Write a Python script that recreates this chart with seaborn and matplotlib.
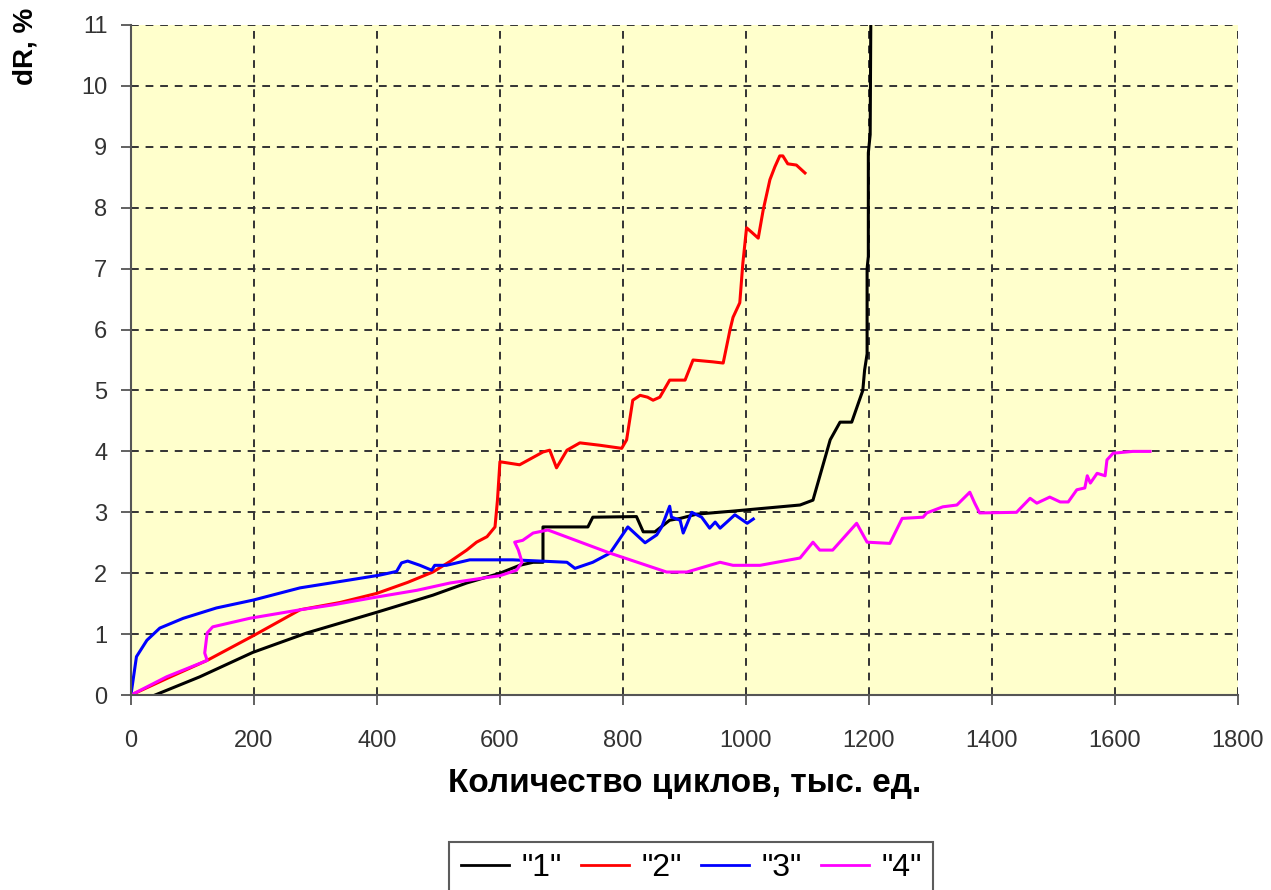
import numpy as np
import pandas as pd
import seaborn as sns
import matplotlib
import matplotlib.pyplot as plt

matplotlib.use("Agg")

# curve "1" (black)
x1 = [39, 112, 198, 286, 400, 491, 546, 600, 632, 654, 670, 670, 681, 743, 751, 822, 833, 852,
      876, 893, 920, 979, 1088, 1109, 1137, 1153, 1172, 1190, 1193, 1197, 1197, 1199, 1199, 1202, 1203]
y1 = [0, 0.3, 0.7, 1.02, 1.36, 1.64, 1.84, 2.0, 2.13, 2.18, 2.18, 2.76, 2.76, 2.76, 2.92, 2.93, 2.68, 2.68,
      2.87, 2.9, 2.97, 3.02, 3.12, 3.2, 4.19, 4.48, 4.48, 5.0, 5.34, 5.6, 7.0, 7.2, 8.9, 9.2, 11.0]

# curve "2" (red)
x2 = [0, 60, 124, 200, 275, 340, 400, 450, 491, 520, 546, 562, 579, 592, 596, 600, 632, 670, 681, 692,
      709, 730, 763, 798, 806, 816, 828, 840, 849, 860, 876, 901, 914, 946, 963, 974, 979, 990, 995,
      1001, 1009, 1020, 1028, 1039, 1047, 1055, 1060, 1068, 1082, 1096]
y2 = [0, 0.28, 0.57, 0.98, 1.4, 1.52, 1.67, 1.85, 2.02, 2.2, 2.38, 2.51, 2.6, 2.76, 3.2, 3.83, 3.78, 3.99,
      4.02, 3.73, 4.02, 4.14, 4.1, 4.05, 4.19, 4.84, 4.92, 4.89, 4.84, 4.89, 5.17, 5.17, 5.5, 5.47, 5.45,
      5.99, 6.2, 6.44, 7.09, 7.67, 7.6, 7.5, 7.96, 8.46, 8.67, 8.85, 8.85, 8.72, 8.7, 8.57]

# curve "3" (blue)
x3 = [0, 9, 26, 47, 85, 139, 199, 275, 356, 405, 432, 440, 450, 470, 489, 494, 513, 551, 621, 709,
      722, 751, 779, 808, 836, 855, 863, 876, 879, 893, 898, 912, 928, 941, 950, 958, 969, 982, 1002, 1012]
y3 = [0, 0.63, 0.9, 1.1, 1.26, 1.43, 1.56, 1.76, 1.89, 1.97, 2.03, 2.17, 2.2, 2.13, 2.05, 2.13, 2.13,
      2.22, 2.22, 2.18, 2.08, 2.18, 2.33, 2.76, 2.5, 2.63, 2.76, 3.1, 2.92, 2.87, 2.66, 3.0, 2.92, 2.74,
      2.84, 2.74, 2.84, 2.96, 2.82, 2.89]

# curve "4" (magenta)
x4 = [0, 58, 112, 124, 120, 124, 133, 193, 275, 328, 400, 465, 519, 572, 600, 627, 636, 630, 624, 637,
      654, 678, 686, 779, 871, 904, 958, 979, 1023, 1088, 1109, 1120, 1141, 1180, 1197, 1234, 1254, 1288,
      1294, 1320, 1343, 1364, 1372, 1380, 1440, 1462, 1473, 1494, 1511, 1524, 1538, 1551, 1555, 1560,
      1571, 1584, 1587, 1597, 1629, 1657]
y4 = [0, 0.3, 0.52, 0.57, 0.69, 1.02, 1.12, 1.26, 1.4, 1.48, 1.61, 1.72, 1.84, 1.92, 1.96, 2.05, 2.18,
      2.38, 2.51, 2.54, 2.66, 2.71, 2.68, 2.33, 2.02, 2.02, 2.18, 2.13, 2.13, 2.25, 2.51, 2.38, 2.38,
      2.82, 2.51, 2.49, 2.9, 2.92, 2.99, 3.09, 3.12, 3.33, 3.15, 2.99, 3.0, 3.23, 3.15, 3.25, 3.17, 3.17,
      3.37, 3.4, 3.6, 3.48, 3.64, 3.6, 3.86, 3.97, 4.0, 4.0]

names = ['"1"', '"2"', '"3"', '"4"']
colors = ["black", "red", "blue", "magenta"]

frames = []
for name, xs, ys in zip(names, [x1, x2, x3, x4], [y1, y2, y3, y4]):
    frames.append(pd.DataFrame({"x": xs, "y": ys, "series": name}))
df = pd.concat(frames, ignore_index=True)

plt.rcParams["font.family"] = ["Liberation Sans", "DejaVu Sans"]

fig = plt.figure(figsize=(12.71, 8.9), dpi=100)
ax = fig.add_axes([0.103, 0.219, 0.871, 0.753])
ax.set_facecolor("#FFFFCC")

sns.lineplot(data=df, x="x", y="y", hue="series", palette=colors, sort=False,
             estimator=None, units="series", linewidth=2.2, ax=ax, legend=True)

ax.set_xlim(0, 1800)
ax.set_ylim(0, 11)
ax.set_xticks(range(0, 1801, 200))
ax.set_yticks(range(0, 12))
ax.grid(True, color="#333333", linestyle=(0, (4, 3.5)), linewidth=1.4)
ax.set_axisbelow(True)

for s in ["top", "right"]:
    ax.spines[s].set_visible(False)
for s in ["left", "bottom"]:
    ax.spines[s].set_color("#555555")
    ax.spines[s].set_linewidth(1.5)
ax.tick_params(axis="both", direction="out", length=7, width=1.3, color="#555555",
               labelsize=17, labelcolor="#333333")
ax.tick_params(axis="x", pad=18)
ax.tick_params(axis="y", pad=10)

ax.set_xlabel("Количество циклов, тыс. ед.", fontsize=24, fontweight="bold", labelpad=12)
ax.set_ylabel("")
fig.text(0.020, 0.948, "dR, %", rotation=90, fontsize=20, fontweight="bold", ha="center", va="center")

leg = ax.legend(loc="upper center", bbox_to_anchor=(0.544, 0.054), bbox_transform=fig.transFigure,
                ncol=4, fontsize=23, frameon=True, fancybox=False, handlelength=1.5,
                handletextpad=0.4, columnspacing=0.6, borderpad=0.35, borderaxespad=0)
leg.get_frame().set_edgecolor("#333333")
leg.get_frame().set_linewidth(1.5)
for line in leg.get_lines():
    line.set_linewidth(2.0)

fig.savefig("out.png", dpi=100)
